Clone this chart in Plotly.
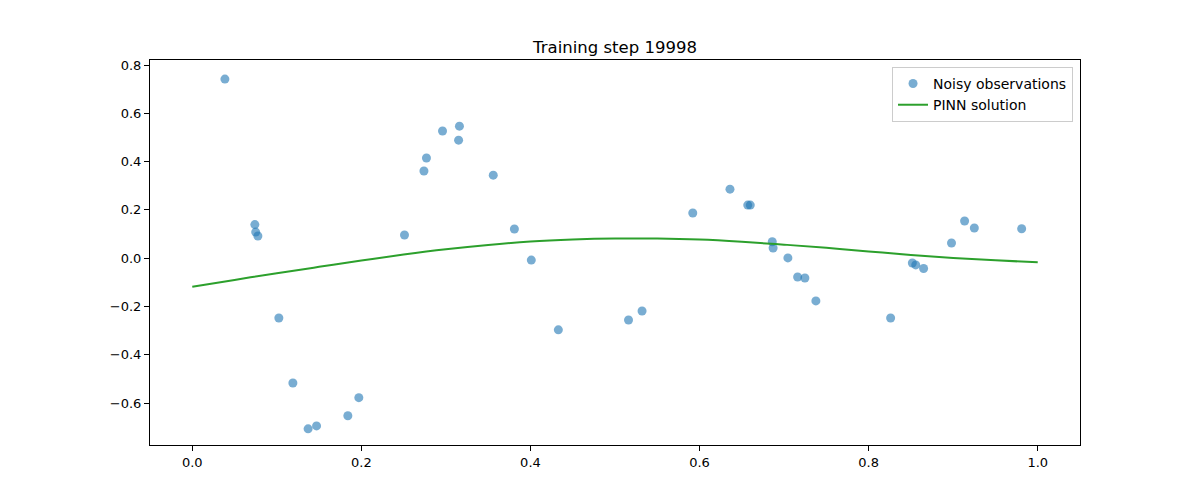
import plotly.graph_objects as go

obs_x = [0.0386, 0.296, 0.316, 0.315, 0.277, 0.274, 0.074, 0.075, 0.0776, 0.251,
         0.1024, 0.119, 0.197, 0.184, 0.147, 0.137,
         0.356, 0.381, 0.401, 0.433, 0.516, 0.532, 0.592, 0.636, 0.657, 0.660, 0.686, 0.687,
         0.7045, 0.716, 0.7246, 0.7376, 0.826, 0.8517, 0.8557, 0.865, 0.898, 0.9135, 0.925, 0.981]
obs_y = [0.742, 0.527, 0.547, 0.489, 0.415, 0.361, 0.139, 0.108, 0.092, 0.096,
         -0.248, -0.517, -0.578, -0.653, -0.695, -0.707,
         0.344, 0.121, -0.008, -0.297, -0.256, -0.219, 0.187, 0.286, 0.220, 0.220, 0.068, 0.042,
         0.001, -0.078, -0.082, -0.177, -0.248, -0.020, -0.028, -0.043, 0.063, 0.154, 0.125, 0.122]

# PINN solution curve
pinn_x = [0.0, 0.05, 0.1, 0.15, 0.2, 0.25, 0.3, 0.35, 0.4, 0.45, 0.5,
          0.55, 0.6, 0.65, 0.7, 0.75, 0.8, 0.85, 0.9, 0.95, 1.0]
pinn_y = [-0.118, -0.090, -0.062, -0.036, -0.010, 0.015, 0.037, 0.055, 0.069, 0.077, 0.081,
          0.081, 0.077, 0.068, 0.056, 0.043, 0.028, 0.013, 0.001, -0.009, -0.017]

x_ticks = [0.0, 0.2, 0.4, 0.6, 0.8, 1.0]
y_ticks = [-0.6, -0.4, -0.2, 0.0, 0.2, 0.4, 0.6, 0.8]

fig = go.Figure()

fig.add_trace(go.Scatter(
    x=obs_x, y=obs_y, mode='markers', name='Noisy observations',
    marker=dict(color='#1f77b4', size=9, opacity=0.6, line=dict(width=0))
))

fig.add_trace(go.Scatter(
    x=pinn_x, y=pinn_y, mode='lines', name='PINN solution',
    line=dict(color='#2ca02c', width=2, shape='spline')
))

axis_style = dict(
    showgrid=False, zeroline=False, showline=True, linecolor='black', linewidth=1,
    mirror=True, ticks='outside', ticklen=5, tickwidth=1, tickcolor='black',
    tickformat='.1f', tickfont=dict(size=13, color='black')
)

# the page adds an 8px offset, so the margins are shifted to compensate
fig.update_layout(
    width=1200, height=500,
    margin=dict(l=142, r=128, t=52, b=63),
    paper_bgcolor='white', plot_bgcolor='white',
    font=dict(family='DejaVu Sans', color='black'),
    title=dict(text='Training step 19998', x=0.5, xref='paper', y=0.922, yanchor='middle',
               font=dict(size=16.5, color='black')),
    xaxis=dict(range=[-0.05, 1.05], tickvals=x_ticks, **axis_style),
    yaxis=dict(range=[-0.774, 0.821], tickvals=y_ticks, **axis_style),
    legend=dict(x=0.9925, y=0.982, xanchor='right', yanchor='top',
                bgcolor='rgba(255,255,255,0.8)', bordercolor='#cccccc', borderwidth=1,
                font=dict(size=14), itemwidth=30, tracegroupgap=0),
    showlegend=True
)

fig.write_html("out.html")
